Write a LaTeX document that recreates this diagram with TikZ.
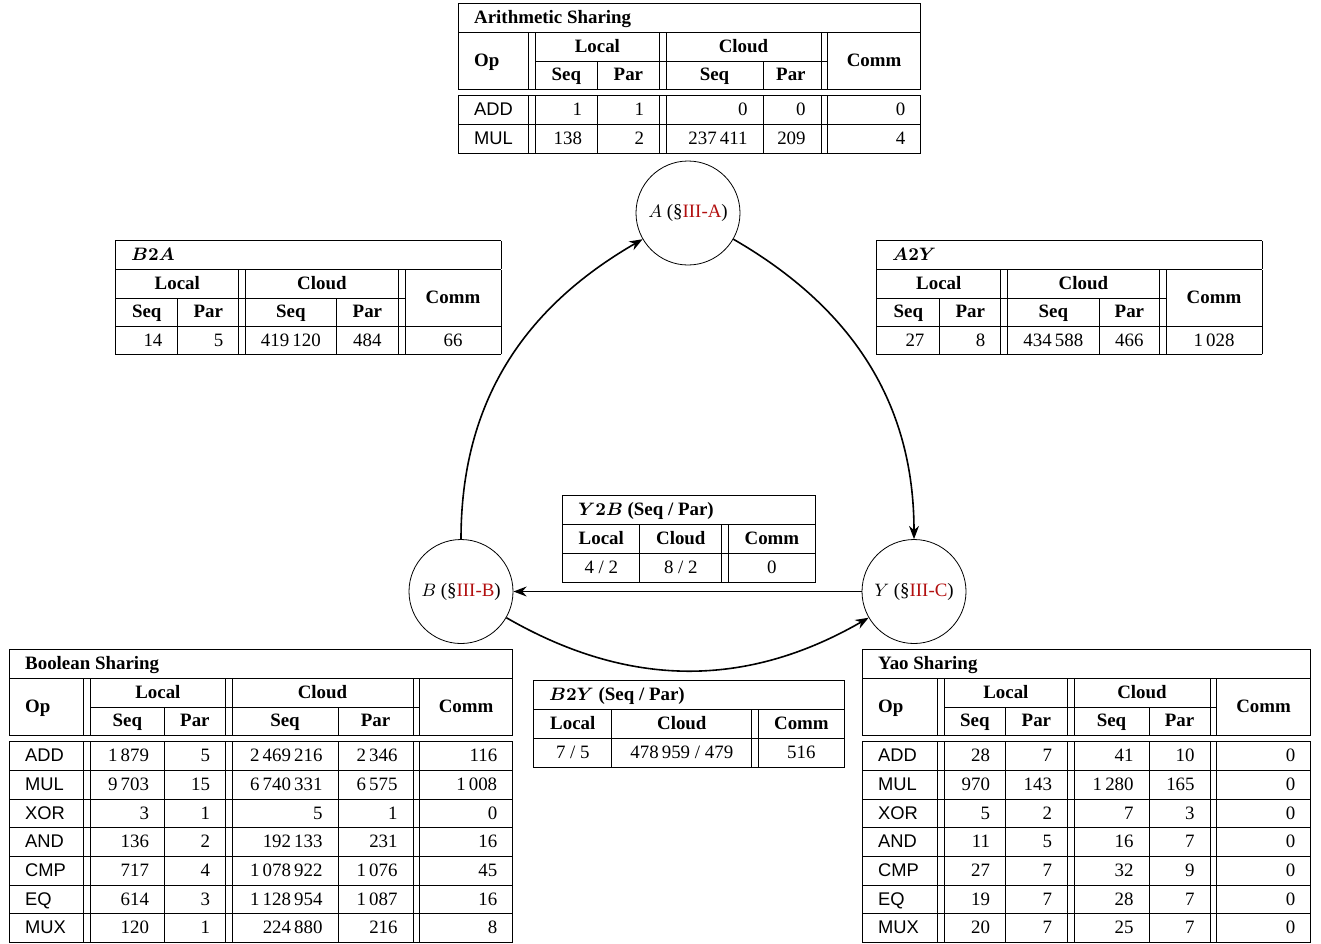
\documentclass[tikz,border=0pt]{standalone}
\usepackage[no-math]{fontspec}
\setmainfont{Liberation Serif}
\setsansfont{Liberation Sans}[Scale=0.97]
\usepackage{array}
\usetikzlibrary{arrows.meta}

\definecolor{secred}{rgb}{0.7,0.06,0.06}
\setlength{\tabcolsep}{7.5pt}
\setlength{\doublerulesep}{2.9pt}
\renewcommand{\arraystretch}{1.23}
\newcommand{\op}[1]{\textsf{#1}}
\newcommand{\hc}[1]{\hfill\textbf{#1}\hfill\null}
\newcommand{\up}[1]{\raisebox{7pt}[0pt][0pt]{#1}}
\newcommand{\sect}[2]{$#1$ (\S\textcolor{secred}{III-#2})}

\begin{document}
\begin{tikzpicture}[x=0.5pt, y=-0.5pt,
    font=\fontsize{9.45pt}{11.34pt}\selectfont,
    state/.style={circle, draw, minimum size=52pt, inner sep=0pt},
    tbl/.style={anchor=north west, inner sep=0pt},
    conv/.style={-{Stealth}, thick}]
\useasboundingbox (0,0) rectangle (1321,943);

\node[tbl] (arith) at (458,3) {%
\begin{tabular}{|w{l}{19.6pt}||w{r}{15.6pt}|w{r}{15.6pt}||w{r}{33.1pt}|w{r}{13.6pt}||w{r}{31.1pt}|}
\hline
\multicolumn{6}{|l|}{\textbf{Arithmetic Sharing}}\\ \hline
 & \multicolumn{2}{c||}{\textbf{Local}} & \multicolumn{2}{c||}{\textbf{Cloud}} & \\ \cline{2-5}
\up{\textbf{Op}} & \hc{Seq} & \hc{Par} & \hc{Seq} & \hc{Par} & \hc{\up{Comm}}\\ \hline\hline
\op{ADD} & 1 & 1 & 0 & 0 & 0\\ \hline
\op{MUL} & 138 & 2 & 237\,411 & 209 & 4\\ \hline
\end{tabular}};

\node[tbl] (b2a) at (115,240) {%
\begin{tabular}{|w{r}{15.6pt}|w{r}{15.1pt}||w{c}{30.1pt}|w{c}{15.6pt}||w{c}{32.6pt}|}
\hline
\multicolumn{5}{|l|}{\textbf{\boldmath$B2A$}}\\ \hline
\multicolumn{2}{|c||}{\textbf{Local}} & \multicolumn{2}{c||}{\textbf{Cloud}} & \\ \cline{1-4}
\hc{Seq} & \hc{Par} & \hc{Seq} & \hc{Par} & \hc{\up{Comm}}\\ \hline
14 & 5 & 419\,120 & 484 & 66\\ \hline
\end{tabular}};

\node[tbl] (a2y) at (876,240) {%
\begin{tabular}{|w{r}{16.1pt}|w{r}{15.1pt}||w{c}{30.6pt}|w{c}{14.6pt}||w{c}{32.6pt}|}
\hline
\multicolumn{5}{|l|}{\textbf{\boldmath$A2Y$}}\\ \hline
\multicolumn{2}{|c||}{\textbf{Local}} & \multicolumn{2}{c||}{\textbf{Cloud}} & \\ \cline{1-4}
\hc{Seq} & \hc{Par} & \hc{Seq} & \hc{Par} & \hc{\up{Comm}}\\ \hline
27 & 8 & 434\,588 & 466 & 1\,028\\ \hline
\end{tabular}};

\node[tbl] (y2b) at (562,495) {%
\begin{tabular}{|w{c}{23.1pt}|w{c}{25.6pt}||w{c}{28.1pt}|}
\hline
\multicolumn{3}{|l|}{\textbf{\boldmath$Y2B$ (Seq / Par)}}\\ \hline
\textbf{Local} & \textbf{Cloud} & \textbf{Comm}\\ \hline
4 / 2 & 8 / 2 & 0\\ \hline
\end{tabular}};

\node[tbl] (b2y) at (533,680) {%
\begin{tabular}{|w{c}{23.6pt}|w{c}{54.6pt}||w{c}{27.6pt}|}
\hline
\multicolumn{3}{|l|}{\textbf{\boldmath$B2Y$ (Seq / Par)}}\\ \hline
\textbf{Local} & \textbf{Cloud} & \textbf{Comm}\\ \hline
7 / 5 & 478\,959 / 479 & 516\\ \hline
\end{tabular}};

\node[tbl] (bool) at (9,649) {%
\begin{tabular}{|w{l}{21.6pt}||w{r}{21.6pt}|w{r}{15.1pt}||w{r}{37.6pt}|w{r}{22.1pt}||w{r}{31.1pt}|}
\hline
\multicolumn{6}{|l|}{\textbf{Boolean Sharing}}\\ \hline
 & \multicolumn{2}{c||}{\textbf{Local}} & \multicolumn{2}{c||}{\textbf{Cloud}} & \\ \cline{2-5}
\up{\textbf{Op}} & \hc{Seq} & \hc{Par} & \hc{Seq} & \hc{Par} & \hc{\up{Comm}}\\ \hline\hline
\op{ADD} & 1\,879 & 5 & 2\,469\,216 & 2\,346 & 116\\ \hline
\op{MUL} & 9\,703 & 15 & 6\,740\,331 & 6\,575 & 1\,008\\ \hline
\op{XOR} & 3 & 1 & 5 & 1 & 0\\ \hline
\op{AND} & 136 & 2 & 192\,133 & 231 & 16\\ \hline
\op{CMP} & 717 & 4 & 1\,078\,922 & 1\,076 & 45\\ \hline
\op{EQ} & 614 & 3 & 1\,128\,954 & 1\,087 & 16\\ \hline
\op{MUX} & 120 & 1 & 224\,880 & 216 & 8\\ \hline
\end{tabular}};

\node[tbl] (yao) at (862,649) {%
\begin{tabular}{|w{l}{22.1pt}||w{r}{15.1pt}|w{r}{15.6pt}||w{r}{22.1pt}|w{r}{15.1pt}||w{r}{31.6pt}|}
\hline
\multicolumn{6}{|l|}{\textbf{Yao Sharing}}\\ \hline
 & \multicolumn{2}{c||}{\textbf{Local}} & \multicolumn{2}{c||}{\textbf{Cloud}} & \\ \cline{2-5}
\up{\textbf{Op}} & \hc{Seq} & \hc{Par} & \hc{Seq} & \hc{Par} & \hc{\up{Comm}}\\ \hline\hline
\op{ADD} & 28 & 7 & 41 & 10 & 0\\ \hline
\op{MUL} & 970 & 143 & 1\,280 & 165 & 0\\ \hline
\op{XOR} & 5 & 2 & 7 & 3 & 0\\ \hline
\op{AND} & 11 & 5 & 16 & 7 & 0\\ \hline
\op{CMP} & 27 & 7 & 32 & 9 & 0\\ \hline
\op{EQ} & 19 & 7 & 28 & 7 & 0\\ \hline
\op{MUX} & 20 & 7 & 25 & 7 & 0\\ \hline
\end{tabular}};

\node[state] (A) at (688,213) {\sect{A}{A}};
\node[state] (B) at (461,591.5) {\sect{B}{B}};
\node[state] (Y) at (914,591.5) {\sect{Y}{C}};

\draw[conv] (B) to[out=90, in=210] (A);
\draw[conv] (A) to[out=-30, in=90] (Y);
\draw[conv] (Y) -- (B);
\draw[conv] (B) to[out=-30, in=210] (Y);
\end{tikzpicture}
\end{document}
